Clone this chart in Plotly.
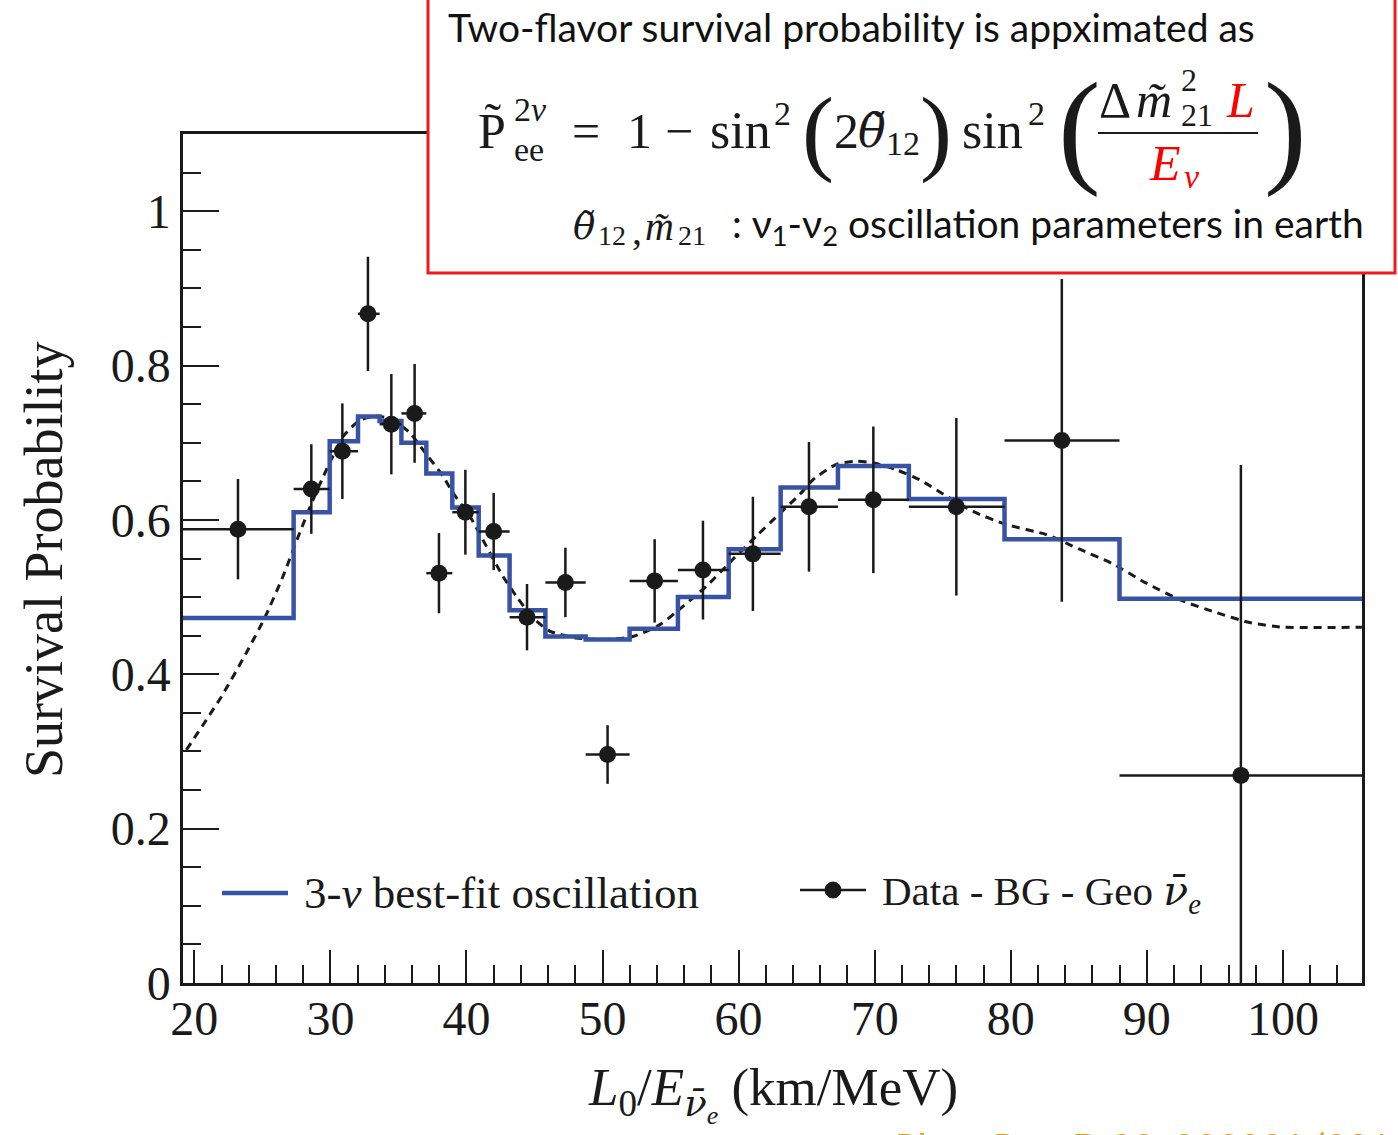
import plotly.graph_objects as go

W, H = 1398, 1135
L_PX, R_PX, T_PX, B_PX = 183, 1362, 134, 983

SERIF = "Liberation Serif"
DJ = "DejaVu Serif"
SANS = "Lato"
INK = "#1a1a1a"
BLUE = "#3953a4"
RED = "#ff0000"

# ---------------- data ----------------
bin_edges = [19.17, 27.30, 29.95, 32.03, 33.62, 35.22, 37.05, 38.96, 40.90, 43.17,
             45.80, 48.76, 51.99, 55.54, 59.27, 63.09, 67.30, 72.51, 79.54, 87.99, 105.81]
best_fit = [0.473, 0.610, 0.702, 0.734, 0.728, 0.700, 0.660, 0.616, 0.554, 0.483,
            0.449, 0.445, 0.459, 0.500, 0.562, 0.642, 0.670, 0.627, 0.575, 0.498]

data_x = [23.21, 28.60, 30.88, 32.76, 34.48, 36.19, 37.98, 39.92, 42.00, 44.45,
          47.27, 50.37, 53.83, 57.38, 61.05, 65.17, 69.90, 76.00, 83.75, 96.91]
data_y = [0.588, 0.640, 0.689, 0.867, 0.724, 0.738, 0.531, 0.610, 0.585, 0.474,
          0.519, 0.296, 0.521, 0.535, 0.556, 0.617, 0.626, 0.617, 0.703, 0.269]
data_yerr = [0.065, 0.058, 0.062, 0.074, 0.065, 0.064, 0.052, 0.055, 0.050, 0.043,
             0.045, 0.038, 0.054, 0.064, 0.074, 0.084, 0.095, 0.115, 0.209, 0.402]

curve_x = [19.42, 21.99, 23.83, 25.17, 26.52, 27.74, 28.72, 29.71, 30.93, 32.15,
           33.38, 34.60, 35.83, 37.05, 38.27, 39.01, 40.24, 41.46, 42.68, 43.67,
           44.89, 46.11, 48.07, 50.15, 52.23, 54.20, 55.91, 57.63, 59.58, 61.30,
           63.01, 64.49, 65.46, 67.18, 68.65, 70.12, 71.59, 73.30, 75.26, 77.22,
           79.67, 82.61, 85.06, 87.50, 89.96, 92.64, 95.10, 97.55, 100.0, 105.8]
curve_y = [0.302, 0.371, 0.428, 0.473, 0.527, 0.583, 0.626, 0.665, 0.708, 0.729,
           0.735, 0.729, 0.713, 0.685, 0.657, 0.635, 0.605, 0.566, 0.527, 0.501,
           0.473, 0.456, 0.447, 0.445, 0.449, 0.464, 0.488, 0.514, 0.549, 0.579,
           0.608, 0.633, 0.652, 0.672, 0.676, 0.673, 0.665, 0.652, 0.631, 0.611,
           0.594, 0.581, 0.562, 0.543, 0.518, 0.495, 0.480, 0.467, 0.461, 0.461]

x_tick_vals = [20, 30, 40, 50, 60, 70, 80, 90, 100]
y_tick_vals = [0, 0.2, 0.4, 0.6, 0.8, 1.0]
y_tick_text = ["0", "0.2", "0.4", "0.6", "0.8", "1"]

# horizontal error bars span the bins
xerr_minus = [x - bin_edges[i] for i, x in enumerate(data_x)]
xerr_plus = [bin_edges[i + 1] - x for i, x in enumerate(data_x)]


def px_x(px):
    return (px - L_PX) / (R_PX - L_PX)


def px_y(py):
    return (B_PX - py) / (B_PX - T_PX)


fig = go.Figure()

fig.add_trace(go.Scatter(
    x=curve_x, y=curve_y, mode="lines",
    line=dict(color=INK, width=3, dash="8px,6px", shape="spline", smoothing=0.6),
    showlegend=False, hoverinfo="skip"))

fig.add_trace(go.Scatter(
    x=bin_edges, y=best_fit + [best_fit[-1]], mode="lines",
    line=dict(color=BLUE, width=4.5, shape="hv"),
    showlegend=False))

fig.add_trace(go.Scatter(
    x=data_x, y=data_y, mode="markers",
    marker=dict(color=INK, size=17),
    error_x=dict(type="data", array=xerr_plus, arrayminus=xerr_minus, symmetric=False,
                 color=INK, thickness=2.5, width=0),
    error_y=dict(type="data", array=data_yerr, color=INK, thickness=2.5, width=0),
    cliponaxis=True, showlegend=False))

shapes = []
annotations = []


def A(text, px, py, size, font=SERIF, color=INK, xanchor="left", yanchor="middle", **kw):
    annotations.append(dict(
        text=text, x=px_x(px), y=px_y(py), xref="paper", yref="paper",
        xanchor=xanchor, yanchor=yanchor, showarrow=False,
        font=dict(family=font, size=size, color=color), **kw))


NUBAR = '<span style="font-family:\'DejaVu Serif\'">ν̄</span>'

# axis titles
A("Survival Probability", 44, 560, 54, xanchor="center", textangle=-90)
A("<i>L</i><sub>0</sub>/<i>E</i><sub><i>" + NUBAR + "<sub>e</sub></i></sub> (km/MeV)",
  773, 1094, 53, xanchor="center")

# legend (drawn manually)
shapes.append(dict(type="line", xref="paper", yref="paper",
                   x0=px_x(222), x1=px_x(288), y0=px_y(893), y1=px_y(893),
                   line=dict(color=BLUE, width=4.5)))
A("3-<i>ν</i> best-fit oscillation", 302, 893, 45)
shapes.append(dict(type="line", xref="paper", yref="paper",
                   x0=px_x(800), x1=px_x(866), y0=px_y(890), y1=px_y(890),
                   line=dict(color=INK, width=2.5)))
shapes.append(dict(type="circle", xref="paper", yref="paper",
                   x0=px_x(825), x1=px_x(841), y0=px_y(882), y1=px_y(898),
                   fillcolor=INK, line=dict(color=INK, width=1)))
A("Data - BG - Geo <i>" + NUBAR + "<sub>e</sub></i>", 880, 893, 41)

# reference (cut at bottom)
A("Phys. Rev. D 88, 033001 (2013)", 893, 1122, 38, font=SANS, color="#d9a21b", yanchor="top")

# red formula box
shapes.append(dict(type="rect", xref="paper", yref="paper", layer="above",
                   x0=px_x(428), x1=px_x(1395), y0=px_y(273), y1=px_y(-6),
                   fillcolor="white", line=dict(color="#ee1b1b", width=3)))
shapes.append(dict(type="line", xref="paper", yref="paper", layer="above",
                   x0=px_x(1098), x1=px_x(1258), y0=px_y(133), y1=px_y(133),
                   line=dict(color=INK, width=2)))

A("Two-flavor survival probability is appximated as", 446, 27, 39, font=SANS, color="#111")
# formula
A("P̃", 476, 131, 50)
A("2<i>ν</i>", 512, 109, 34)
A("ee", 512, 149, 34)
A("=", 570, 131, 50)
A("1", 625, 131, 50)
A("−", 663, 131, 50)
A("sin", 708, 131, 52)
A("2", 772, 113, 34)
A("(", 800, 131, 96)
A("2", 832, 131, 50)
A("<i>θ̃</i>", 856, 131, 46, font=DJ)
A("12", 884, 144, 34)
A(")", 918, 131, 96)
A("sin", 960, 131, 52)
A("2", 1026, 113, 34)
A("(", 1056, 127, 128)
A("Δ", 1097, 100, 50)
A("<i>m̃</i>", 1134, 100, 50)
A("2", 1179, 80, 32)
A("21", 1179, 115, 32)
A("<i>L</i>", 1224, 100, 50, color=RED)
A("<i>E</i>", 1147, 163, 50, color=RED)
A("<i>ν</i>", 1182, 176, 34, color=RED)
A(")", 1262, 127, 128)
# parameter line
A("<i>θ̃</i>", 571, 226, 37, font=DJ)
A("12", 596, 236, 28)
A(",", 630, 230, 40)
A("<i>m̃</i>", 643, 226, 40)
A("21", 676, 236, 28)
A(": ν<sub>1</sub>-ν<sub>2</sub> oscillation parameters in earth", 730, 226, 39,
  font=SANS, color="#111")

axis_common = dict(showline=True, linewidth=2.5, linecolor=INK, mirror=True,
                   showgrid=False, zeroline=False, ticks="inside", tickwidth=2,
                   tickcolor=INK, tickfont=dict(family=SERIF, size=48, color=INK))

fig.update_layout(
    width=W, height=H,
    margin=dict(l=L_PX, r=W - R_PX, t=T_PX, b=H - B_PX, autoexpand=False),
    paper_bgcolor="white", plot_bgcolor="white",
    xaxis=dict(range=[19.17, 105.81], tickvals=x_tick_vals, ticklen=33,
               ticklabelstandoff=-8,
               minor=dict(ticks="inside", dtick=2, tick0=20, ticklen=18, tickwidth=2,
                          tickcolor=INK),
               **axis_common),
    yaxis=dict(range=[0, 1.1], tickvals=y_tick_vals, ticktext=y_tick_text, ticklen=36,
               minor=dict(ticks="inside", dtick=0.05, tick0=0, ticklen=18, tickwidth=2,
                          tickcolor=INK),
               **axis_common),
    shapes=shapes, annotations=annotations,
    showlegend=False,
)

fig.write_html("out.html")
